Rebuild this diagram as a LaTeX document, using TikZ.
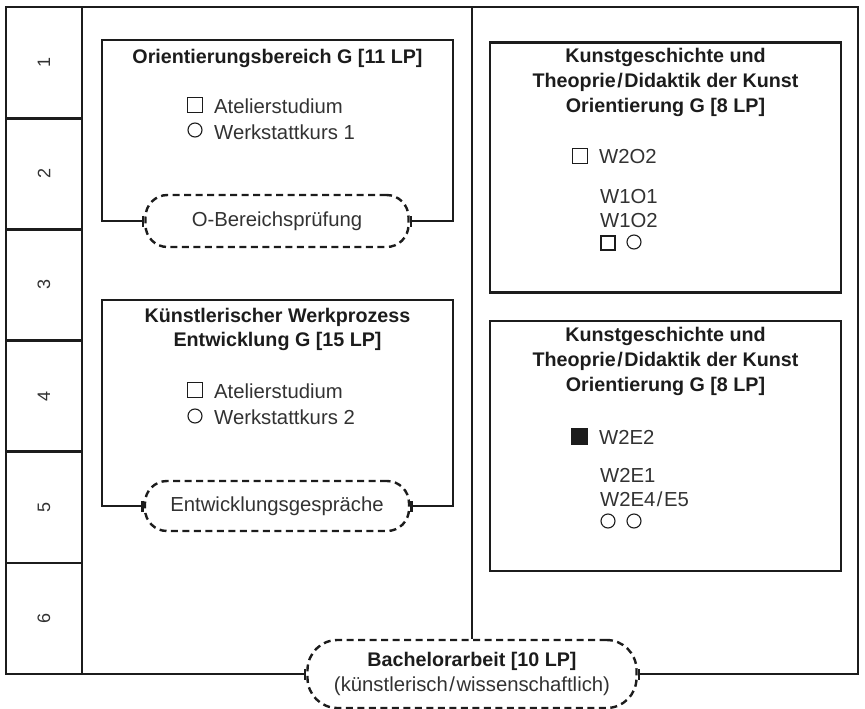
\documentclass[tikz,border=0pt]{standalone}
\usepackage{fontspec}
\setmainfont{Liberation Sans}
\usepackage{xcolor}
\usetikzlibrary{arrows.meta, positioning}
\definecolor{inkblack}{RGB}{28, 28, 28}
\definecolor{textgray}{RGB}{50, 50, 50}
\newcommand{\plansize}{\fontsize{20.3}{24.5}\selectfont}
\newcommand{\titlesize}{\fontsize{19.7}{24.6}\selectfont}
\newcommand{\slashsep}{\kern1.5pt/\kern1.5pt}
\tikzset{
  frame/.style={draw=inkblack, line width=2.7pt},
  tick/.style={{Bar[width=11pt]}-{Bar[width=11pt]}},
  semcell/.style={rectangle, draw=inkblack, line width=2.7pt, rotate=90,
    minimum width=111.17pt, minimum height=76pt, inner sep=0pt,
    font=\fontsize{18}{20}\selectfont, text=textgray},
  kgbox/.style={rectangle, draw=inkblack, line width=2.7pt,
    minimum width=351pt, minimum height=250pt},
  exambox/.style={rectangle, rounded corners=22pt, draw=inkblack,
    line width=2.4pt, dash pattern=on 7pt off 4.5pt, inner sep=0pt,
    font=\plansize, text=textgray},
  titletext/.style={align=center, font=\titlesize\bfseries, text=inkblack,
    inner sep=0pt},
  itemtext/.style={anchor=west, align=left, font=\plansize, text=textgray,
    inner sep=0pt},
  sqmark/.style={rectangle, draw=inkblack, line width=1.1pt,
    minimum size=15pt, inner sep=0pt},
  fillmark/.style={rectangle, draw=inkblack, fill=inkblack, line width=1pt,
    minimum size=16pt, inner sep=0pt},
  circmark/.style={circle, draw=inkblack, line width=1.1pt,
    minimum size=14pt, inner sep=0pt}
}

\begin{document}
\begin{tikzpicture}[x=1pt, y=-1pt]
\useasboundingbox (0,0) rectangle (865,709);

% semesters
\foreach \i in {1,...,6}
  \node (sem\i) [semcell] at (44, {7+111.17*(\i-0.5)}) {\i};

% bachelor thesis and outer frame
\node (bach) [exambox, minimum width=329pt, minimum height=68pt, rounded corners=30pt,
  align=center] at (472,674)
  {{\titlesize\bfseries\color{inkblack}Bachelorarbeit [10 LP]}\\(künstlerisch\slashsep wissenschaftlich)};
\coordinate (fl) at (6,7);
\coordinate (fr) at (858,7);
\coordinate (divtop) at (472,7);
\draw[frame, tick] (bach.west) -| (fl) -- (fr) |- (bach.east);
\draw[frame] (divtop) -- (bach.north);

% Orientierungsbereich
\node (oexam) [exambox, minimum width=263pt, minimum height=52pt] at (277,221)
  {O-Bereichsprüfung};
\coordinate (o1tl) at (102,40);
\coordinate (o1tr) at (453,40);
\draw[frame, tick] (oexam.west) -| (o1tl) -- (o1tr) |- (oexam.east);
\node (otitle) [titletext] at (277.5,58) {Orientierungsbereich G [11 LP]};
\node (osq)  [sqmark]   at (195,105) {};
\node (ocirc) [circmark] at (195,130) {};
\node (oatel) [itemtext] at (214,106) {Atelierstudium};
\node (owerk) [itemtext] at (214,132) {Werkstattkurs 1};

% Werkprozess
\node (eexam) [exambox, minimum width=264pt, minimum height=50pt] at (277,506)
  {Entwicklungsgespräche};
\coordinate (e1tl) at (102,300);
\coordinate (e1tr) at (453,300);
\draw[frame, tick] (eexam.west) -| (e1tl) -- (e1tr) |- (eexam.east);
\node (etitle) [titletext] at (277.5,329.5)
  {Künstlerischer Werkprozess\\Entwicklung G [15 LP]};
\node (esq)  [sqmark]   at (195,390) {};
\node (ecirc) [circmark] at (195,416) {};
\node (eatel) [itemtext] at (214,391) {Atelierstudium};
\node (ewerk) [itemtext] at (214,417) {Werkstattkurs 2};

% Kunstgeschichte, oben
\node (kgo) [kgbox] at (665.5,167.5) {};
\node (kgotitle) [titletext] at (665.5,82.5)
  {Kunstgeschichte und\\Theoprie\slashsep Didaktik der Kunst\\Orientierung G [8 LP]};
\node (kgosq) [sqmark] at (580,156) {};
\node (kgow2) [itemtext] at (599,157) {W2O2};
\node (kgow1) [itemtext] at (600,208.5) {W1O1\\W1O2};
\node (kgosq2) [sqmark, minimum size=14pt] at (608,243) {};
\node (kgoc) [circmark] at (634,242) {};

% Kunstgeschichte, unten
\node (kge) [kgbox] at (665.5,446) {};
\node (kgetitle) [titletext] at (665.5,361.5)
  {Kunstgeschichte und\\Theoprie\slashsep Didaktik der Kunst\\Orientierung G [8 LP]};
\node (kgefill) [fillmark] at (579,436) {};
\node (kgew2) [itemtext] at (599,437) {W2E2};
\node (kgew1) [itemtext] at (600,487.5) {W2E1\\W2E4\slashsep E5};
\node (kgec1) [circmark] at (608,521) {};
\node (kgec2) [circmark] at (634,521) {};
\end{tikzpicture}
\end{document}
